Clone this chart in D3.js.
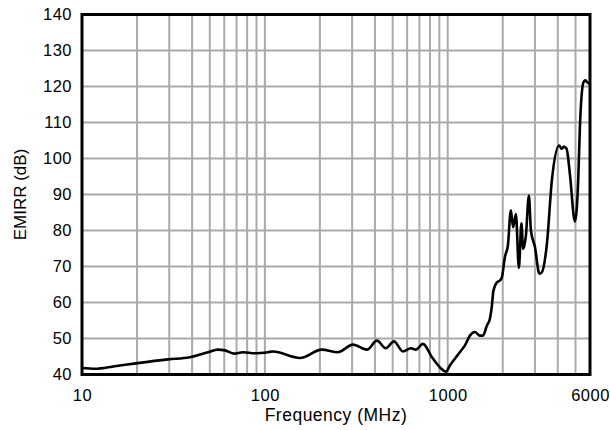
<!DOCTYPE html>
<html>
<head>
<meta charset="utf-8">
<script src="https://cdn.jsdelivr.net/npm/d3@7"></script>
<style>
  html, body { margin: 0; padding: 0; background: #fff; }
  svg text { font-family: "Liberation Sans", Arial, sans-serif; fill: #000; }
</style>
</head>
<body>
<svg id="chart" width="610" height="430"></svg>
<script>
// Data (frequency in MHz, EMIRR in dB)
const freqMHz = [10, 11.8, 15.1, 19.7, 29.5, 38.9, 48.9, 55.4, 60.5, 67.8, 75.9, 88.3, 104, 110.7,
  155.6, 205, 251, 303, 362, 410, 459, 508, 569, 629, 670, 732, 820, 906, 978, 1028, 1095, 1166,
  1242, 1323, 1408, 1500, 1558, 1638, 1701, 1745, 1778, 1858, 1929, 1978, 2054, 2133, 2215, 2280,
  2360, 2450, 2530, 2587, 2677, 2780, 2851, 3000, 3172, 3273, 3487, 3712, 4071, 4196, 4319, 4468,
  4658, 4961, 5171, 5283, 5526, 5645, 5790, 5976];
const emirrDB = [41.8, 41.6, 42.3, 43.1, 44.2, 44.8, 46.2, 46.9, 46.7, 45.8, 46.2, 45.9, 46.2, 46.4,
  44.6, 46.9, 46.2, 48.3, 46.9, 49.4, 47.3, 49.2, 46.4, 47.3, 46.9, 48.5, 44.8, 42.0, 40.8, 42.5, 44.4, 46.2,
  48.1, 50.8, 51.8, 50.8, 50.8, 53.6, 55.5, 59.2, 63.3, 65.6, 66.1, 67.0, 72.6, 75.8, 85.6, 80.9,
  84.6, 69.6, 82.0, 74.9, 78.6, 89.7, 80.0, 75.4, 68.0, 68.4, 76.3, 93.9, 103.6, 102.7, 103.3, 102.7,
  95.7, 82.5, 93.9, 108.7, 121.2, 121.7, 121.2, 120.7];
const xTickLabels = [10, 100, 1000, 6000];
const xGridValues = [20,30,40,50,60,70,80,90,100,200,300,400,500,600,700,800,900,1000,2000,3000,4000,5000];
const yTickValues = [40, 50, 60, 70, 80, 90, 100, 110, 120, 130, 140];

(function () {
const svg = d3.select("#chart");
const mLeft = 82, mRight = 590, mTop = 14.5, mBottom = 374.5;

const x = d3.scaleLog().domain([10, 6000]).range([mLeft, mRight]);
const y = d3.scaleLinear().domain([40, 140]).range([mBottom, mTop]);

// Grid
const grid = svg.append("g");
grid.selectAll("line.v").data(xGridValues).enter().append("line")
  .attr("x1", d => x(d)).attr("x2", d => x(d))
  .attr("y1", mTop).attr("y2", mBottom)
  .attr("stroke", "#aaaaaa").attr("stroke-width", 2);
grid.selectAll("line.h").data(yTickValues.slice(1, -1)).enter().append("line")
  .attr("x1", mLeft).attr("x2", mRight)
  .attr("y1", d => y(d)).attr("y2", d => y(d))
  .attr("stroke", "#aaaaaa").attr("stroke-width", 2);

// Data line
const pts = freqMHz.map((f, i) => [f, emirrDB[i]]);
const line = d3.line().x(d => x(d[0])).y(d => y(d[1])).curve(d3.curveMonotoneX);
svg.append("path").datum(pts).attr("d", line)
  .attr("fill", "none").attr("stroke", "#000").attr("stroke-width", 2.6)
  .attr("stroke-linejoin", "round");

// Frame
svg.append("rect").attr("x", mLeft).attr("y", mTop)
  .attr("width", mRight - mLeft).attr("height", mBottom - mTop)
  .attr("fill", "none").attr("stroke", "#000").attr("stroke-width", 3);

const fontFam = "'Liberation Sans', Arial, sans-serif";

// Axes
const xAxis = d3.axisBottom(x).tickValues(xTickLabels).tickFormat(d3.format("d")).tickSize(0).tickPadding(15);
const gx = svg.append("g").attr("transform", `translate(0,${mBottom})`).call(xAxis);
gx.select(".domain").remove();
gx.selectAll("text").style("font-size", "16.5px").style("font-family", fontFam)
  .style("letter-spacing", "0.5px").attr("fill", "#000");

const yAxis = d3.axisLeft(y).tickValues(yTickValues).tickFormat(d3.format("d")).tickSize(0).tickPadding(10);
const gy = svg.append("g").attr("transform", `translate(${mLeft},0)`).call(yAxis);
gy.select(".domain").remove();
gy.selectAll("text").style("font-size", "16.5px").style("font-family", fontFam)
  .style("letter-spacing", "0.5px").attr("fill", "#000");

// Axis titles
svg.append("text").attr("x", (mLeft + mRight) / 2).attr("y", 421)
  .attr("text-anchor", "middle").style("font-size", "17.5px").style("letter-spacing", "0.5px")
  .text("Frequency (MHz)");
svg.append("text").attr("transform", `translate(26,${(mTop + mBottom) / 2}) rotate(-90)`)
  .attr("text-anchor", "middle").style("font-size", "17px")
  .text("EMIRR (dB)");
})();
</script>
</body>
</html>
